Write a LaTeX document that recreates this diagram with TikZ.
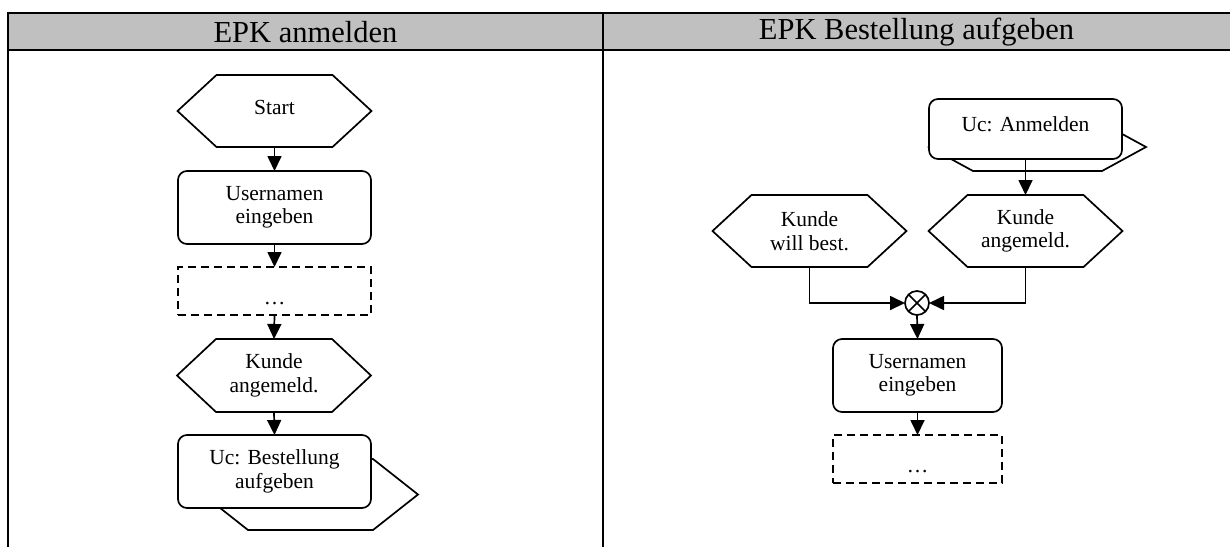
\documentclass[tikz,border=0pt]{standalone}
\usepackage{fontspec}
\setmainfont{Liberation Serif}
\usetikzlibrary{arrows.meta}
\newcommand{\hexoutline}[2]{\draw[nodeline] (#1.west) -- ([xshift=#2]#1.north west) -- ([xshift=-#2]#1.north east) -- (#1.east) -- ([xshift=-#2]#1.south east) -- ([xshift=#2]#1.south west) -- cycle;}
\tikzset{
  nodeline/.style={line width=1.7pt, line join=miter},
  tabline/.style={line width=2.2pt},
  headtext/.style={font=\fontsize{30.5}{33}\selectfont, inner sep=0pt},
  nodefont/.style={font=\fontsize{21.5}{23.5}\selectfont, align=center},
  hexbox/.style={nodefont, minimum width=194pt, minimum height=72pt, inner sep=0pt, outer sep=0pt},
  funcbox/.style={nodefont, nodeline, draw, fill=white, rounded corners=9pt, minimum width=193pt, minimum height=73pt, inner sep=0pt, outer sep=0pt},
  dashbox/.style={nodefont, nodeline, draw, dash pattern=on 8pt off 5pt, minimum width=193pt, minimum height=48pt, inner sep=0pt, outer sep=0pt, text height=26pt, text depth=0pt},
  flow/.style={nodeline, -{Triangle[width=14pt,length=15pt]}},
  xorcircle/.style={circle, nodeline, draw, minimum size=24pt, inner sep=0pt, outer sep=0pt}
}
\begin{document}
\begin{tikzpicture}[x=1pt,y=-1pt]
\useasboundingbox (0,0) rectangle (1230,547);
% table
\fill[fill={rgb,255:red,192;green,192;blue,192}] (8,13) rectangle (1230,50);
\draw[tabline] (8,13) -- (1230,13);
\draw[tabline] (8,50) -- (1230,50);
\draw[tabline] (8,12) -- (8,547);
\draw[tabline] (603,12) -- (603,547);
\node[headtext] (h1) at (305.5,32) {EPK anmelden};
\node[headtext] (h2) at (916.5,32) {EPK Bestellung aufgeben};

% left panel
\node[hexbox, text height=15pt, text depth=9pt] (start) at (274.5,111) {Start};
\hexoutline{start}{39}
\node[funcbox] (user1) at (274.5,207.5) {Usernamen\\eingeben};
\node[dashbox] (dash1) at (274.5,291) {\dots};
\node[hexbox, minimum height=73pt] (kunde1) at (274,375.5) {Kunde\\angemeld.};
\hexoutline{kunde1}{39}
\draw[nodeline] (203,494.5) -- (248,459) -- (373,459) -- (418,494.5) -- (373,530) -- (248,530) -- cycle;
\node[funcbox] (uc1) at (274.5,471.5) {Uc: Bestellung\\aufgeben};
\draw[flow] (start.south) -- (user1.north);
\draw[flow] (user1.south) -- (dash1.north);
\draw[flow] (dash1.south) -- (kunde1.north);
\draw[flow] (kunde1.south) -- (uc1.north);

% right panel
\draw[nodeline] (929,147) -- (973,123) -- (1102,123) -- (1146,147) -- (1102,171) -- (973,171) -- cycle;
\node[funcbox, minimum height=60pt, text height=15pt, text depth=11pt] (uc2) at (1025.5,129) {Uc: Anmelden};
\node[hexbox] (kwill) at (809.5,231) {Kunde\\will best.};
\hexoutline{kwill}{39}
\node[hexbox] (kunde2) at (1025.5,231) {Kunde\\angemeld.};
\hexoutline{kunde2}{39}
\node[xorcircle] (xor) at (917,303) {};
\draw[nodeline] (xor.45) -- (xor.225);
\draw[nodeline] (xor.135) -- (xor.-45);
\node[funcbox, minimum width=169pt] (user2) at (917.5,375.5) {Usernamen\\eingeben};
\node[dashbox, minimum width=169pt] (dash2) at (917.5,459) {\dots};
\draw[flow] (uc2.south) -- (kunde2.north);
\draw[flow] (kwill.south) |- (xor.west);
\draw[flow] (kunde2.south) |- (xor.east);
\draw[flow] (xor.south) -- (user2.north);
\draw[flow] (user2.south) -- (dash2.north);
\end{tikzpicture}
\end{document}
